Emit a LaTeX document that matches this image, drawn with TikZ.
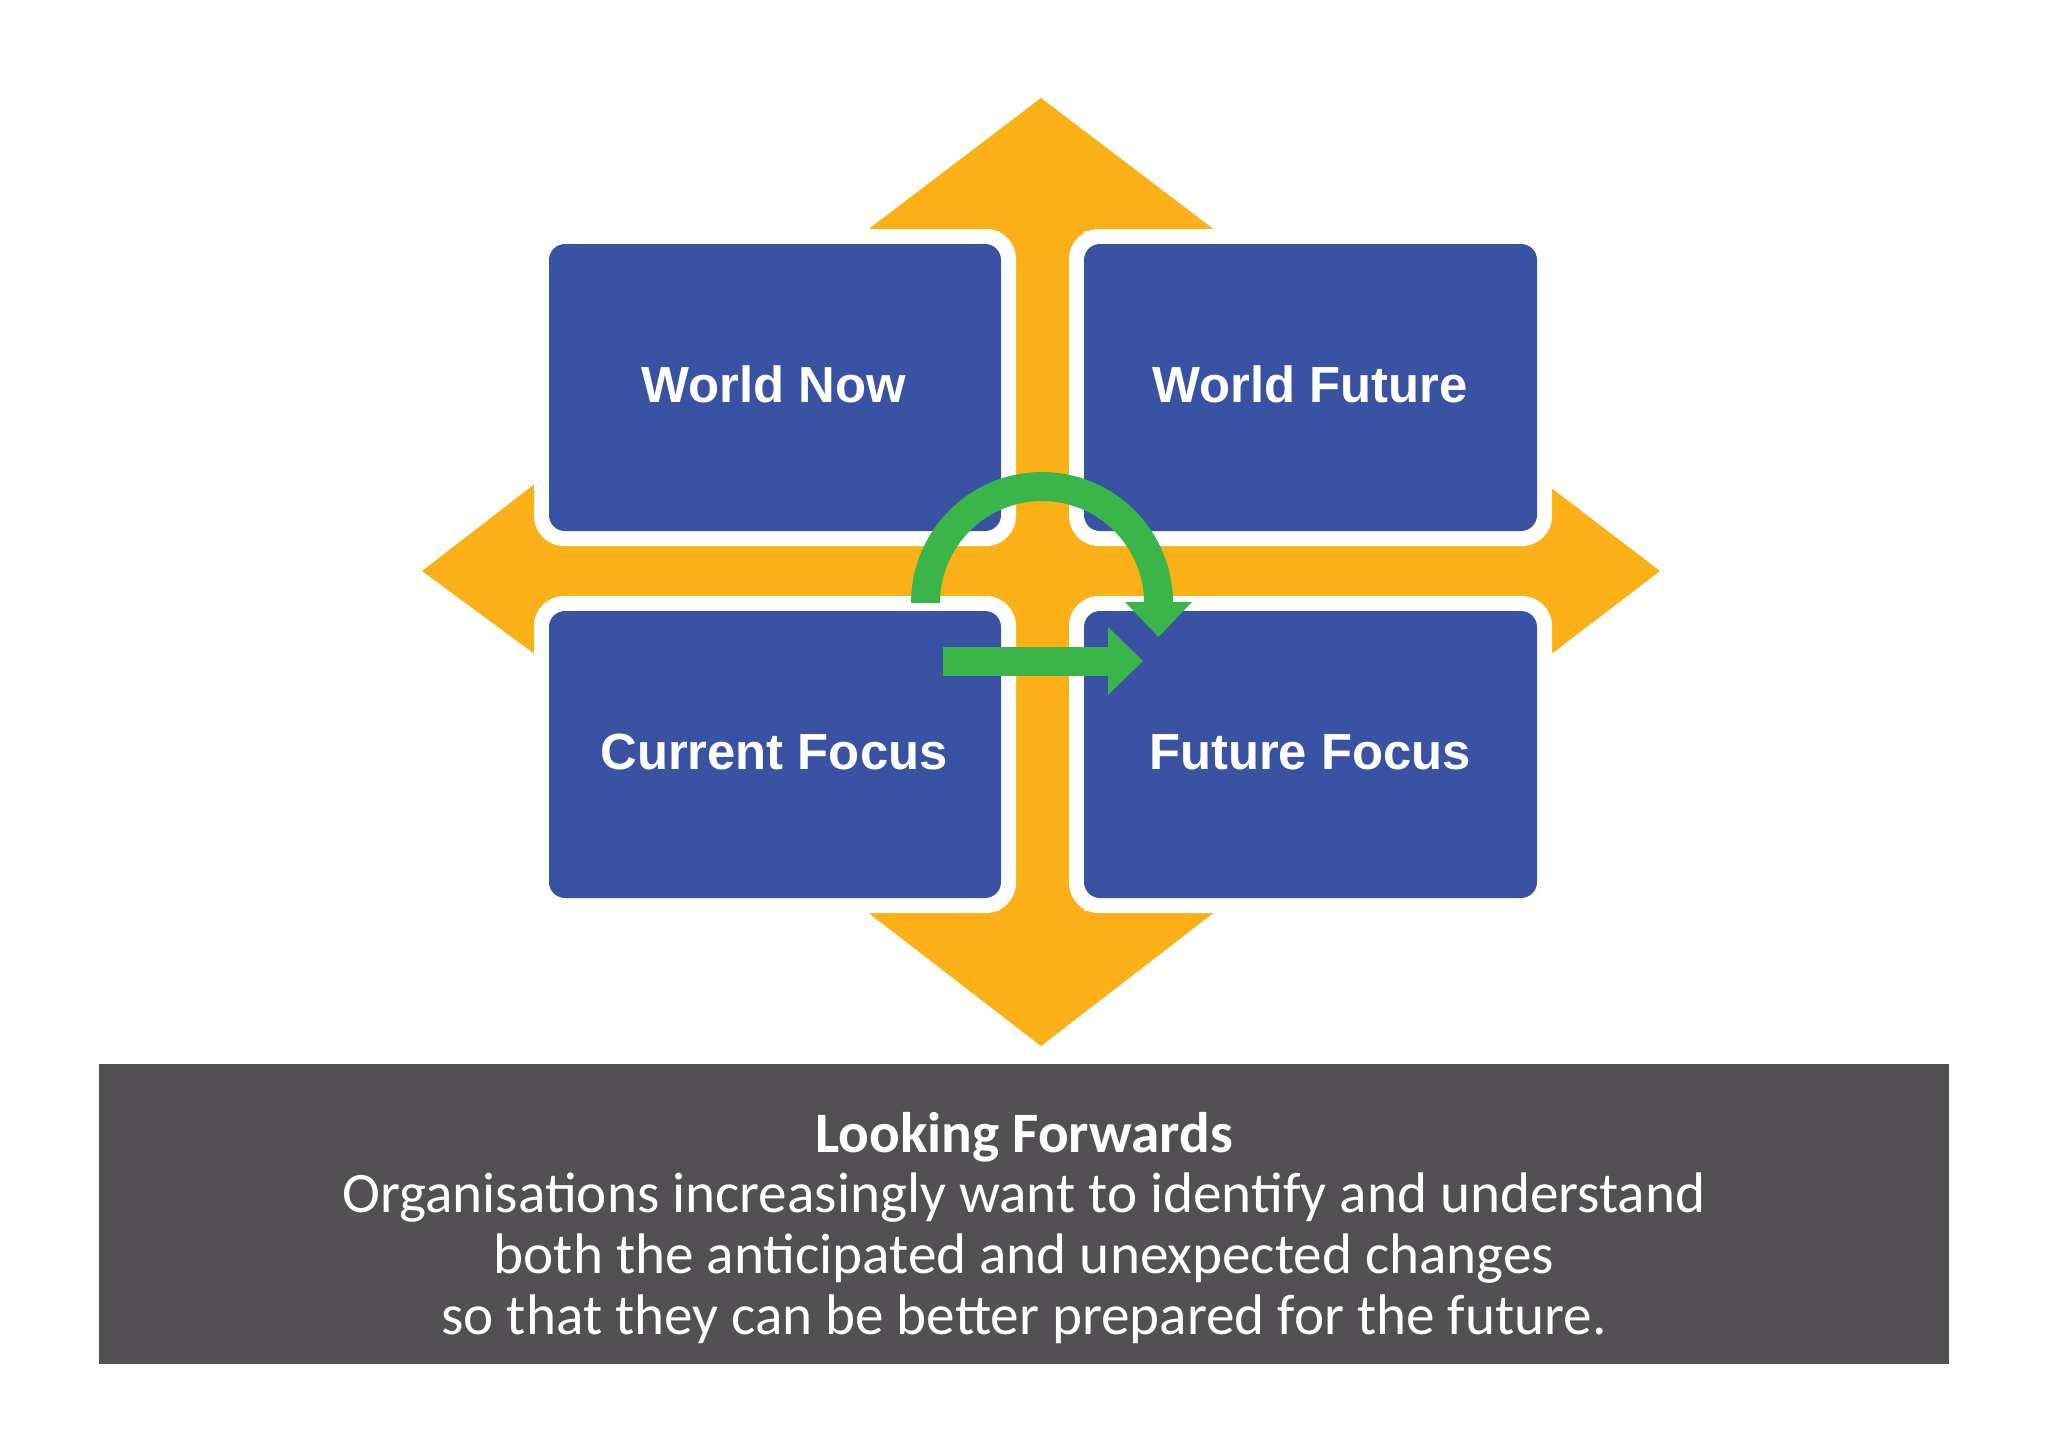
\documentclass[tikz,border=0pt]{standalone}
\usepackage{fontspec}
\setmainfont{Liberation Sans}
\newfontfamily\boxfont{Liberation Sans}
\newfontfamily\capfont{Carlito}
\definecolor{qblue}{RGB}{58,82,163}
\definecolor{qorange}{RGB}{252,176,24}
\definecolor{qgreen}{RGB}{57,181,74}
\definecolor{qgray}{RGB}{82,80,83}
\tikzset{
  whitebox/.style={fill=white, rounded corners=15pt},
  bluebox/.style={fill=qblue, rounded corners=8pt},
  boxtxt/.style={text=white, anchor=base, inner sep=0pt, font=\boxfont\fontsize{25.4pt}{30pt}\selectfont\bfseries},
  captxt/.style={text=white, anchor=base, inner sep=0pt, font=\capfont\fontsize{28.6pt}{31pt}\selectfont},
  greenline/.style={draw=qgreen, line width=14.5pt, line cap=butt},
}
\begin{document}
\begin{tikzpicture}[x=0.5pt,y=-0.5pt]
\useasboundingbox (0,0) rectangle (2048,1447);
\fill[white] (0,0) rectangle (2048,1447);
% orange cross with four arrowheads
\fill[qorange] (1000,225) rectangle (1084,916);
\fill[qorange] (530,528) rectangle (1555,615);
\fill[qorange] (866,231) -- (1041,98) -- (1216,231) -- cycle;
\fill[qorange] (866,911) -- (1041,1046) -- (1216,911) -- cycle;
\fill[qorange] (536,483) -- (422,571) -- (536,655) -- cycle;
\fill[qorange] (1550,487) -- (1660,571) -- (1550,655) -- cycle;
% white borders
\fill[whitebox] (534,229) rectangle (1016,546);
\fill[whitebox] (1069,229) rectangle (1552,546);
\fill[whitebox] (534,596) rectangle (1016,913);
\fill[whitebox] (1069,596) rectangle (1552,913);
% blue boxes
\fill[bluebox] (549,244) rectangle (1001,531);
\fill[bluebox] (1084,244) rectangle (1537,531);
\fill[bluebox] (549,611) rectangle (1001,898);
\fill[bluebox] (1084,611) rectangle (1537,898);
\node[boxtxt] (wn) at (774,402) {World Now};
\node[boxtxt] (wf) at (1310,402) {World Future};
\node[boxtxt] (cf) at (774,769) {Current Focus};
\node[boxtxt] (ff) at (1310,769) {Future Focus};
% green arrows
\coordinate (arcA) at (925.5,603);
\coordinate (arcB) at (1158.5,603);
\draw[greenline] (arcA) arc (180:360:116.5);
\fill[qgreen] ([xshift=-16.75pt,yshift=0.5pt]arcB) -- ([xshift=16.75pt,yshift=0.5pt]arcB) -- ([yshift=-17pt]arcB) -- cycle;
\coordinate (stA) at (943,661);
\coordinate (stB) at (1109,661);
\coordinate (stTip) at (1143,661);
\draw[greenline] (stA) -- (stB);
\fill[qgreen] ([xshift=-0.5pt,yshift=17pt]stB) -- (stTip) -- ([xshift=-0.5pt,yshift=-17pt]stB) -- cycle;
% caption box
\fill[qgray] (99,1064) rectangle (1949,1364);
\node[captxt, font=\capfont\fontsize{28.6pt}{31pt}\selectfont\bfseries] (t1) at (1024,1152) {Looking Forwards};
\node[captxt] (t2) at (1024,1212) {Organisations increasingly want to identify and understand};
\node[captxt] (t3) at (1024,1273) {both the anticipated and unexpected changes};
\node[captxt] (t4) at (1024,1334) {so that they can be better prepared for the future.};
\end{tikzpicture}
\end{document}
